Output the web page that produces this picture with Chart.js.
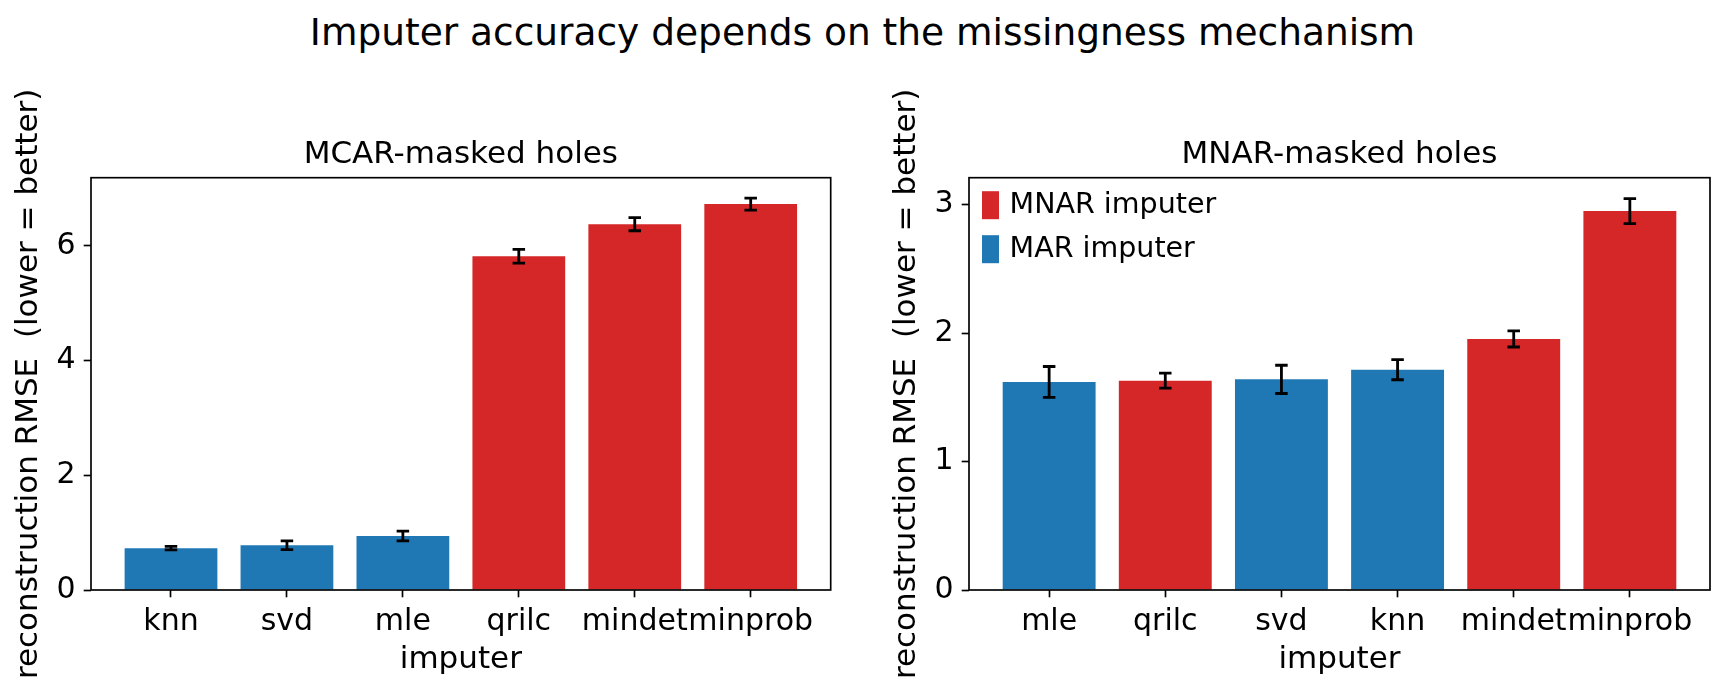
<!DOCTYPE html>
<html>
<head>
<meta charset="utf-8">
<script src="https://cdn.jsdelivr.net/npm/chart.js@4.4.1/dist/chart.umd.min.js"></script>
<style>
  body { margin:0; background:#fff; width:1725px; height:692px; position:relative; overflow:hidden; font-family:'DejaVu Sans'; }
  #suptitle { position:absolute; left:0; top:10px; width:1725px; text-align:center; font-size:37.5px; line-height:44px; color:#000; }
  #left { position:absolute; left:0; top:0; }
  #right { position:absolute; left:878px; top:0; }
</style>
</head>
<body>
<div id="suptitle">Imputer accuracy depends on the missingness mechanism</div>
<canvas id="left" width="878" height="692"></canvas>
<canvas id="right" width="847" height="692"></canvas>
<script>
// MCAR panel
const mcarImputers = ['knn', 'svd', 'mle', 'qrilc', 'mindet', 'minprob'];
const mcarRmse     = [0.73, 0.78, 0.94, 5.82, 6.38, 6.73];
const mcarErr      = [0.03, 0.075, 0.085, 0.12, 0.115, 0.105];
const mcarKind     = ['MAR', 'MAR', 'MAR', 'MNAR', 'MNAR', 'MNAR'];
const mcarTicks    = [0, 2, 4, 6];

// MNAR panel
const mnarImputers = ['mle', 'qrilc', 'svd', 'knn', 'mindet', 'minprob'];
const mnarRmse     = [1.62, 1.63, 1.64, 1.715, 1.955, 2.95];
const mnarErr      = [0.12, 0.058, 0.11, 0.078, 0.063, 0.097];
const mnarKind     = ['MAR', 'MNAR', 'MAR', 'MAR', 'MNAR', 'MNAR'];
const mnarTicks    = [0, 1, 2, 3];

const legendText  = ['MNAR imputer', 'MAR imputer'];
const legendKind  = ['MNAR', 'MAR'];

const COLORS = { MNAR: '#d62728', MAR: '#1f77b4' };

Chart.defaults.font.family = "'DejaVu Sans'";
Chart.defaults.color = '#000';

function makeChart(id, title, labels, values, errors, kinds, yMax, yTicks, padRight, showLegend) {
    // error bars + frame + legend, drawn on top of the bars
    const extras = {
        id: 'extras_' + id,
        afterDatasetsDraw(chart) {
            const ctx = chart.ctx, xs = chart.scales.x, ys = chart.scales.y;
            ctx.save();
            ctx.strokeStyle = '#000';
            ctx.lineWidth = 2.8;
            values.forEach((v, i) => {
                const px = xs.getPixelForValue(i);
                const top = ys.getPixelForValue(v + errors[i]);
                const bot = ys.getPixelForValue(v - errors[i]);
                ctx.beginPath();
                ctx.moveTo(px, top); ctx.lineTo(px, bot);
                ctx.moveTo(px - 6.25, top); ctx.lineTo(px + 6.25, top);
                ctx.moveTo(px - 6.25, bot); ctx.lineTo(px + 6.25, bot);
                ctx.stroke();
            });
            const a = chart.chartArea;
            ctx.lineWidth = 1.67;
            ctx.strokeRect(a.left, a.top, a.right - a.left, a.bottom - a.top);
            if (showLegend) {
                ctx.font = "28.5px 'DejaVu Sans'";
                ctx.textBaseline = 'middle';
                ctx.textAlign = 'left';
                legendText.forEach((t, k) => {
                    const cy = a.top + 27.5 + k * 44;
                    ctx.fillStyle = COLORS[legendKind[k]];
                    ctx.fillRect(a.left + 13, cy - 14, 17, 28);
                    ctx.fillStyle = '#000';
                    ctx.fillText(t, a.left + 40.6, cy);
                });
            }
            ctx.restore();
        }
    };

    const tickGrid = { display: true, drawOnChartArea: false, drawTicks: true, tickLength: 7.3,
                       tickColor: '#000', tickWidth: 1.67, offset: false };

    return new Chart(document.getElementById(id).getContext('2d'), {
        type: 'bar',
        data: {
            datasets: [{
                data: values.map((v, i) => ({ x: i, y: v })),
                backgroundColor: kinds.map(k => COLORS[k]),
                borderWidth: 0,
                barPercentage: 0.8,
                categoryPercentage: 1.0
            }]
        },
        options: {
            responsive: false,
            animation: false,
            devicePixelRatio: 1,
            layout: { padding: { left: 0, right: padRight, top: 0, bottom: 0 } },
            plugins: {
                legend: { display: false },
                tooltip: { enabled: false },
                title: { display: true, text: title, fullSize: false, color: '#000',
                         font: { size: 31, weight: 'normal' }, padding: { top: 136.4, bottom: 4.1 } }
            },
            scales: {
                x: {
                    type: 'linear',
                    min: -0.69,
                    max: labels.length - 1 + 0.69,
                    offset: false,
                    afterBuildTicks: s => { s.ticks = labels.map((_, i) => ({ value: i })); },
                    ticks: { callback: v => labels[v], font: { size: 30 }, padding: 7,
                             autoSkip: false, maxRotation: 0, minRotation: 0 },
                    grid: tickGrid,
                    border: { display: false },
                    title: { display: true, text: 'imputer', font: { size: 31 }, padding: { top: 0, bottom: 13 } },
                    afterFit: s => { s.height = 102; }
                },
                y: {
                    min: 0,
                    max: yMax,
                    afterBuildTicks: s => { s.ticks = yTicks.map(v => ({ value: v })); },
                    ticks: { callback: v => String(v), font: { size: 30 }, padding: 8 },
                    grid: tickGrid,
                    border: { display: false },
                    title: { display: true, text: 'reconstruction RMSE  (lower = better)',
                             font: { size: 31 }, padding: { top: 10, bottom: 0 } },
                    afterFit: s => { s.width = 91; }
                }
            }
        },
        plugins: [extras]
    });
}

makeChart('left', 'MCAR-masked holes', mcarImputers, mcarRmse, mcarErr, mcarKind, 7.19, mcarTicks, 47.3, false);
makeChart('right', 'MNAR-masked holes', mnarImputers, mnarRmse, mnarErr, mnarKind, 3.21, mnarTicks, 15, true);
</script>
</body>
</html>
